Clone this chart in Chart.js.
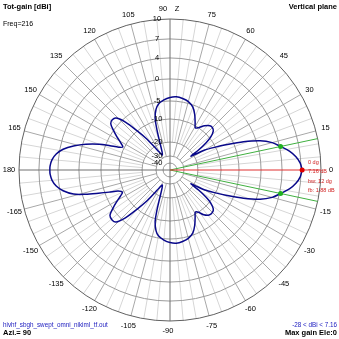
<!DOCTYPE html>
<html><head><meta charset="utf-8">
<script src="https://cdn.jsdelivr.net/npm/chart.js@4/dist/chart.umd.min.js"></script>
<style>html,body{margin:0;padding:0;background:#fff;overflow:hidden}#wrap{width:339px;height:339px;position:relative}</style>
</head><body><div id="wrap"><canvas id="c"></canvas></div>
<script>
// ---- data ----
const angles = [0,3,6,9,12,15,18,21,24,27,30,32,33.5,35,37,39,42,45,48,52,56,59,62,66,70,75,80,85,90,95,100,103,106,108,110,113,117,121,124,127,130,133,136,139,142,145,148,151,154,156,158,160,163,166,169,172,175,178,180,
182,185,188,191,194,196,198,200,202,205,208,211,214,217,221,224,227,230,233,236,239,243,247,250,252,254,257,260,265,270,275,280,285,290,294,298,301,304,307,311,315,318,321,323,325,326.5,328,330,333,336,339,342,345,348,351,354,357,360];
const gains = [7.16,6.9,6.3,5.4,4.16,2.8,0.7,-2.8,-6.8,-10.5,-15,-19.5,-22,-17,-12.5,-9.6,-8.0,-7.5,-7.6,-8.6,-10,-10.8,-9.3,-7.3,-5.6,-4.6,-4.2,-4.0,-4.2,-4.7,-5.6,-6.9,-9.2,-13.9,-19,-25,-28,-25,-20,-15,-10,-6,-3.7,-3.3,-3.6,-5,-6.8,-8.5,-9.6,-8.6,-6.2,-3.6,-0.7,1.6,3.4,4.45,5.0,5.25,5.28,
5.25,5.0,4.45,3.4,1.6,-0.7,-3.6,-6.2,-8.6,-9.6,-8.5,-6.8,-5,-3.6,-3.3,-3.7,-6,-10,-15,-20,-25,-28,-25,-19,-13.9,-9.2,-6.9,-5.6,-4.7,-4.2,-4.0,-4.2,-4.6,-5.6,-7.3,-9.3,-10.8,-10,-8.6,-7.6,-7.5,-8.0,-9.6,-12.5,-17,-22,-19.5,-15,-10.5,-6.8,-2.8,0.7,2.8,4.16,5.4,6.3,6.9,7.16];
const ringDb = [10,7,4,0,-5,-10,-20,-30,-40];
const angleTicks = [0,15,30,45,60,75,90,105,120,135,150,165,180,-165,-150,-135,-120,-105,-90,-75,-60,-45,-30,-15];
const maxGain = 7.16, maxGainAngle = 0, halfPowerGain = 4.16, bwHalfAngles = [12,-12];
const infoLabels = ['0 dg','7.16 dB','bw: 12 dg','fb: 1.88 dB'];

// ---- radial (log-like) scale definition ----
const SCALE_DB = [-40,-30,-20,-10,-5,0,4,7,10];
const SCALE_FR = [0.046,0.093,0.185,0.338,0.457,0.603,0.742,0.868,1];
function radial(db){
  if(db<=SCALE_DB[0]) return Math.max(0,SCALE_FR[0]*(db+50)/10);
  for(let i=1;i<SCALE_DB.length;i++){
    if(db<=SCALE_DB[i]){const t=(db-SCALE_DB[i-1])/(SCALE_DB[i]-SCALE_DB[i-1]);return SCALE_FR[i-1]+t*(SCALE_FR[i]-SCALE_FR[i-1]);}
  }
  return 1;
}
const D2R=Math.PI/180;
function pt(a,db){const r=radial(db);return {x:r*Math.cos(a*D2R),y:r*Math.sin(a*D2R)};}
function edge(a,r){return {x:r*Math.cos(a*D2R),y:r*Math.sin(a*D2R)};}

const pattern = angles.map((a,i)=>pt(a,gains[i]));

const gridPlugin = {
  id:'polarGrid',
  beforeDatasetsDraw(chart){
    const xs=chart.scales.x, ys=chart.scales.y, ctx=chart.ctx;
    const cx=xs.getPixelForValue(0), cy=ys.getPixelForValue(0);
    const R=xs.getPixelForValue(1)-cx;
    ctx.save();
    ctx.lineWidth=1;
    for(let a=0;a<360;a+=5){
      if(a%15===0) continue;
      const r0=radial(-20)*R;
      ctx.strokeStyle='#d6d6d6';
      ctx.beginPath();
      ctx.moveTo(cx+r0*Math.cos(a*D2R),cy-r0*Math.sin(a*D2R));
      ctx.lineTo(cx+R*Math.cos(a*D2R),cy-R*Math.sin(a*D2R));
      ctx.stroke();
    }
    for(let a=0;a<360;a+=15){
      if(a%90===0) continue;
      const r0=radial(-30)*R;
      ctx.strokeStyle='#a8a8a8';
      ctx.beginPath();
      ctx.moveTo(cx+r0*Math.cos(a*D2R),cy-r0*Math.sin(a*D2R));
      ctx.lineTo(cx+R*Math.cos(a*D2R),cy-R*Math.sin(a*D2R));
      ctx.stroke();
    }
    ringDb.forEach((d,i)=>{
      ctx.strokeStyle = i===0 ? '#606060' : '#9a9a9a';
      ctx.beginPath();
      ctx.arc(cx,cy,radial(d)*R,0,Math.PI*2);
      ctx.stroke();
    });
    ctx.strokeStyle='#707070';
    ctx.beginPath();
    ctx.moveTo(cx-R,cy);ctx.lineTo(cx,cy);
    ctx.moveTo(cx,cy-R);ctx.lineTo(cx,cy+R);
    ctx.stroke();
    ctx.restore();
  },
  afterDraw(chart){
    const xs=chart.scales.x, ys=chart.scales.y, ctx=chart.ctx;
    const cx=xs.getPixelForValue(0), cy=ys.getPixelForValue(0);
    const R=xs.getPixelForValue(1)-cx;
    ctx.save();
    ctx.textBaseline='middle';
    ctx.font='7.5px "Liberation Sans", Arial, sans-serif';
    ctx.fillStyle='#000';
    ctx.textAlign='center';
    ringDb.forEach(d=>{
      const y=cy-radial(d)*R;
      ctx.fillText(String(d), cx-13, y);
    });
    angleTicks.forEach(a=>{
      const rr=R+10;
      let x=cx+rr*Math.cos(a*D2R), y=cy-rr*Math.sin(a*D2R);
      if(a===90){x=cx-7;}
      if(a===-90){x=cx-2;}
      ctx.fillText(String(a),x,y);
    });
    ctx.fillText('Z',cx+7,cy-R-10);
    ctx.font='5.5px "Liberation Sans", Arial, sans-serif';
    ctx.fillStyle='#d02020';
    ctx.textAlign='left';
    infoLabels.forEach((t,i)=>ctx.fillText(t,cx+138,cy-8+i*9.5));
    ctx.fillStyle='#000';
    ctx.font='bold 7.5px "Liberation Sans", Arial, sans-serif';
    ctx.fillText('Tot-gain [dBi]',3,7);
    ctx.textAlign='right';
    ctx.fillText('Vertical plane',337,7);
    ctx.fillText('Max gain Ele:0',337,333);
    ctx.textAlign='left';
    ctx.fillText('Azi.= 90',3,333);
    ctx.font='7px "Liberation Sans", Arial, sans-serif';
    ctx.fillText('Freq=216',3,24);
    ctx.fillStyle='#2020c0';
    ctx.font='6.3px "Liberation Sans", Arial, sans-serif';
    ctx.fillText('hivhf_sbgh_swept_omni_nikiml_tf.out',3,325);
    ctx.textAlign='right';
    ctx.fillText('-28 < dBi < 7.16',337,325);
    ctx.restore();
  }
};

new Chart(document.getElementById('c'),{
  type:'scatter',
  data:{datasets:[
    {data:pattern,showLine:true,borderColor:'#08088a',borderWidth:1.5,pointRadius:0,tension:0.3,order:1},
    {data:[{x:0,y:0},edge(maxGainAngle,1)],showLine:true,borderColor:'#e03030',borderWidth:1,pointRadius:0,order:2},
    {data:[{x:0,y:0},edge(bwHalfAngles[0],1)],showLine:true,borderColor:'#40b040',borderWidth:1,pointRadius:0,order:2},
    {data:[{x:0,y:0},edge(bwHalfAngles[1],1)],showLine:true,borderColor:'#40b040',borderWidth:1,pointRadius:0,order:2},
    {data:bwHalfAngles.map(a=>pt(a,halfPowerGain)),showLine:false,pointRadius:2.5,pointBackgroundColor:'#20b020',pointBorderWidth:0,order:0},
    {data:[pt(maxGainAngle,maxGain)],showLine:false,pointRadius:2.5,pointBackgroundColor:'#e00000',pointBorderWidth:0,order:0}
  ]},
  options:{
    responsive:true,maintainAspectRatio:false,animation:false,
    layout:{padding:{left:19,top:19,right:18,bottom:18}},
    plugins:{legend:{display:false},tooltip:{enabled:false}},
    scales:{x:{type:'linear',min:-1,max:1,display:false},y:{type:'linear',min:-1,max:1,display:false}}
  },
  plugins:[gridPlugin]
});
</script></body></html>
